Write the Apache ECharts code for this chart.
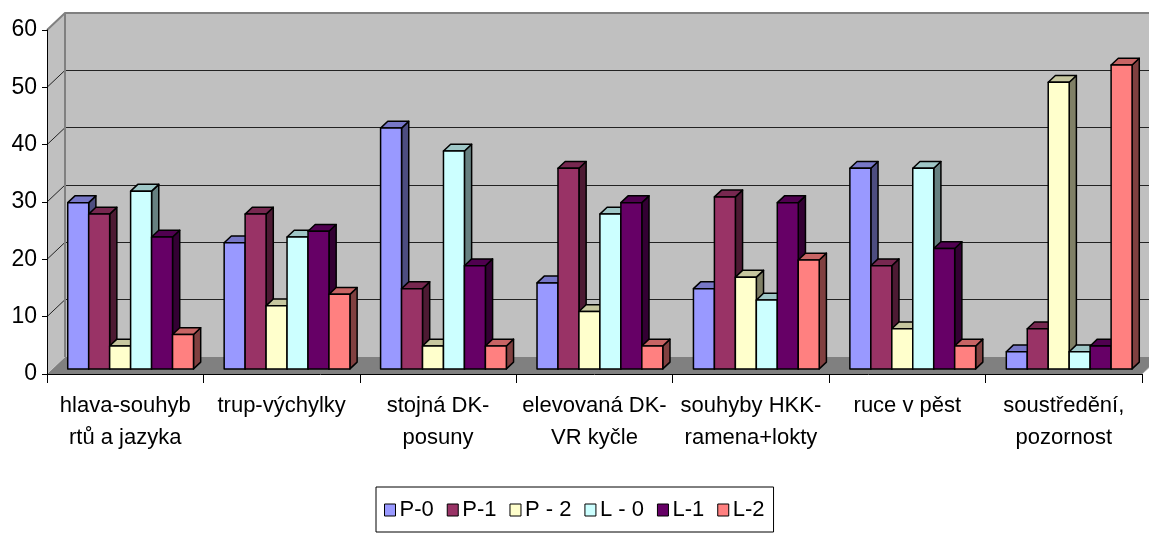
<!DOCTYPE html>
<html>
<head>
<meta charset="utf-8">
<script src="https://cdn.jsdelivr.net/npm/echarts@6/dist/echarts.min.js"></script>
<style>
  html, body { margin: 0; padding: 0; background: #fff; }
  #chart { width: 1149px; height: 535px; }
</style>
</head>
<body>
<div id="chart"></div>
<script>
// Categories (two-line labels) and series values
const categories = [
  'hlava-souhyb\nrtů a jazyka',
  'trup-výchylky',
  'stojná DK-\nposuny',
  'elevovaná DK-\nVR kyčle',
  'souhyby HKK-\nramena+lokty',
  'ruce v pěst',
  'soustředění,\npozornost'
];
const seriesNames = ['P-0', 'P-1', 'P - 2', 'L - 0', 'L-1', 'L-2'];
const p0 = [29, 22, 42, 15, 14, 35, 3];
const p1 = [27, 27, 14, 35, 30, 18, 7];
const p2 = [4, 11, 4, 10, 16, 7, 50];
const l0 = [31, 23, 38, 27, 12, 35, 3];
const l1 = [23, 24, 18, 29, 29, 21, 4];
const l2 = [6, 13, 4, 4, 19, 4, 53];
const yMin = 0, yMax = 60, yStep = 10;

const seriesValues = [p0, p1, p2, l0, l1, l2];
const colors = ['#9999ff', '#993366', '#ffffcc', '#ccffff', '#660066', '#ff8080'];

// Layout of the pseudo-3D frame
const W = 1149, H = 535;
const FRONT = { left: 47, top: 30, right: 1142, bottom: 374 };
const DX = 18, DY = 17;             // depth offset of the back wall
const BAR_FRAC = 0.134;              // bar width as a fraction of a category
const BAR_FRONT = 0.3, BAR_BACK = 0.7; // bar depth position within the floor
const FONT = '"Liberation Sans", Arial, sans-serif';

function shade(hex, k) {
  const n = parseInt(hex.slice(1), 16);
  const r = Math.round(((n >> 16) & 255) * k);
  const g = Math.round(((n >> 8) & 255) * k);
  const b = Math.round((n & 255) * k);
  return 'rgb(' + r + ',' + g + ',' + b + ')';
}

function makeRender(si) {
  const front = colors[si], top = shade(colors[si], 0.78), side = shade(colors[si], 0.5);
  return function (params, api) {
    const cat = api.value(0), val = api.value(1);
    const base = api.coord([cat, 0]);
    const tip = api.coord([cat, val]);
    const catW = api.size([1, 0])[0];
    const bw = catW * BAR_FRAC;
    const n = seriesNames.length;
    const fx = base[0] - bw * n / 2 + si * bw + DX * BAR_FRONT;
    const fy0 = base[1] - DY * BAR_FRONT;
    const fy1 = tip[1] - DY * BAR_FRONT;
    const dx = DX * (BAR_BACK - BAR_FRONT), dy = DY * (BAR_BACK - BAR_FRONT);
    const stroke = { stroke: '#000', lineWidth: 1.5, lineJoin: 'round' };
    return {
      type: 'group',
      children: [
        { type: 'polygon', shape: { points: [[fx + bw, fy1], [fx + bw + dx, fy1 - dy], [fx + bw + dx, fy0 - dy], [fx + bw, fy0]] },
          style: Object.assign({ fill: side }, stroke) },
        { type: 'polygon', shape: { points: [[fx, fy1], [fx + bw, fy1], [fx + bw + dx, fy1 - dy], [fx + dx, fy1 - dy]] },
          style: Object.assign({ fill: top }, stroke) },
        { type: 'rect', shape: { x: fx, y: fy1, width: bw, height: fy0 - fy1 },
          style: Object.assign({ fill: front }, stroke) }
      ]
    };
  };
}

// Back wall, side wall and floor
function frameGraphics() {
  const backL = FRONT.left + DX, backT = FRONT.top - DY, backB = FRONT.bottom - DY;
  const unit = (FRONT.bottom - FRONT.top) / (yMax - yMin);
  const els = [];
  els.push({ type: 'polygon', z: 1, silent: true,
    shape: { points: [[FRONT.left, FRONT.bottom], [FRONT.right, FRONT.bottom], [FRONT.right + DX, backB], [backL, backB]] },
    style: { fill: '#808080' } });
  els.push({ type: 'polygon', z: 1, silent: true,
    shape: { points: [[FRONT.left, FRONT.top], [backL, backT], [backL, backB], [FRONT.left, FRONT.bottom]] },
    style: { fill: '#c0c0c0' } });
  for (let v = yMin + yStep; v < yMax; v += yStep) {
    const yf = FRONT.bottom - (v - yMin) * unit;
    els.push({ type: 'line', z: 1, silent: true,
      shape: { x1: FRONT.left, y1: yf, x2: backL, y2: yf - DY },
      style: { stroke: '#222', lineWidth: 1 } });
  }
  els.push({ type: 'polyline', z: 1, silent: true,
    shape: { points: [[FRONT.left, FRONT.top], [backL, backT], [W + 2, backT]] },
    style: { stroke: '#808080', lineWidth: 2, fill: null } });
  els.push({ type: 'line', z: 1, silent: true,
    shape: { x1: backL, y1: backT, x2: backL, y2: backB },
    style: { stroke: '#808080', lineWidth: 2 } });
  els.push({ type: 'line', z: 1, silent: true,
    shape: { x1: FRONT.right, y1: FRONT.bottom, x2: FRONT.right + DX, y2: backB },
    style: { stroke: '#a0a0a0', lineWidth: 1 } });
  return els;
}

const chart = echarts.init(document.getElementById('chart'), null, { renderer: 'canvas' });

const option = {
  animation: false,
  backgroundColor: '#fff',
  textStyle: { fontFamily: FONT },
  grid: [
    { // back wall
      left: FRONT.left + DX, top: FRONT.top - DY, right: 0, bottom: H - (FRONT.bottom - DY),
      show: true, backgroundColor: '#c0c0c0', borderWidth: 0, containLabel: false
    },
    { // front plane
      left: FRONT.left, top: FRONT.top, right: W - FRONT.right, bottom: H - FRONT.bottom,
      containLabel: false
    }
  ],
  xAxis: [
    { type: 'category', gridIndex: 0, data: categories, show: false },
    {
      type: 'category', gridIndex: 1, data: categories, z: 5,
      axisLine: { show: true, lineStyle: { color: '#000', width: 1 } },
      axisTick: { show: true, length: 9, interval: 0, lineStyle: { color: '#000' } },
      axisLabel: {
        interval: 0, margin: 16, color: '#000', fontSize: 22, lineHeight: 32,
        fontFamily: FONT, align: 'center'
      },
      splitLine: { show: false }
    }
  ],
  yAxis: [
    {
      type: 'value', gridIndex: 0, min: yMin, max: yMax, interval: yStep,
      axisLine: { show: false }, axisTick: { show: false }, axisLabel: { show: false },
      splitLine: { show: true, lineStyle: { color: '#222', width: 1 } }
    },
    {
      type: 'value', gridIndex: 1, min: yMin, max: yMax, interval: yStep, z: 5,
      axisLine: { show: true, lineStyle: { color: '#000', width: 1 } },
      axisTick: { show: true, length: 5, lineStyle: { color: '#000' } },
      axisLabel: { color: '#000', fontSize: 23, margin: 10, fontFamily: FONT },
      splitLine: { show: false }
    }
  ],
  legend: {
    data: seriesNames,
    left: 376, top: 487,
    orient: 'horizontal',
    icon: 'rect',
    itemWidth: 11, itemHeight: 12, itemGap: 13,
    padding: [10, 9, 9, 8],
    borderColor: '#000', borderWidth: 1,
    backgroundColor: '#fff',
    itemStyle: { borderColor: '#000', borderWidth: 1 },
    textStyle: { color: '#000', fontSize: 22, lineHeight: 26, fontFamily: FONT, padding: [0, 0, 0, -1] }
  },
  graphic: { elements: frameGraphics() },
  series: seriesNames.map((name, si) => ({
    name: name,
    type: 'custom',
    xAxisIndex: 1, yAxisIndex: 1,
    z: 2,
    itemStyle: { color: colors[si] },
    encode: { x: 0, y: 1 },
    data: seriesValues[si].map((v, i) => [i, v]),
    renderItem: makeRender(si)
  }))
};

chart.setOption(option);
</script>
</body>
</html>
